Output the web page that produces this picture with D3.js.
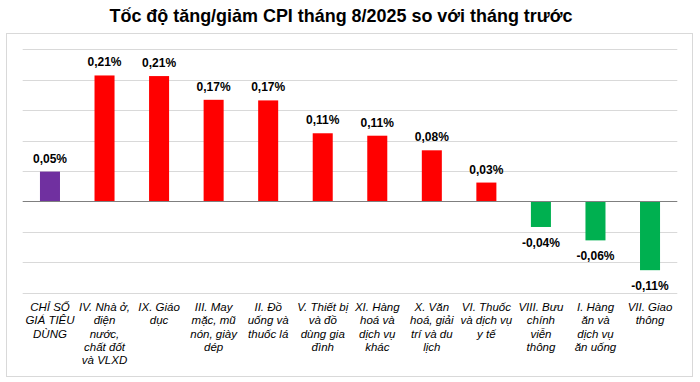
<!DOCTYPE html>
<html>
<head>
<meta charset="utf-8">
<script src="https://cdn.jsdelivr.net/npm/d3@7"></script>
<style>
  html, body { margin: 0; padding: 0; background: #fff; }
  svg { display: block; }
</style>
</head>
<body>
<svg id="chart" width="700" height="382"></svg>
<script>
const title = "Tốc độ tăng/giảm CPI tháng 8/2025 so với tháng trước";
const categories = [
  "CHỈ SỐ\nGIÁ TIÊU\nDÙNG",
  "IV. Nhà ở,\nđiện\nnước,\nchất đốt\nvà VLXD",
  "IX. Giáo\ndục",
  "III. May\nmặc, mũ\nnón, giày\ndép",
  "II. Đồ\nuống và\nthuốc lá",
  "V. Thiết bị\nvà đồ\ndùng gia\nđình",
  "XI. Hàng\nhoá và\ndịch vụ\nkhác",
  "X. Văn\nhoá, giải\ntrí và du\nlịch",
  "VI. Thuốc\nvà dịch vụ\ny tế",
  "VIII. Bưu\nchính\nviễn\nthông",
  "I. Hàng\năn và\ndịch vụ\năn uống",
  "VII. Giao\nthông"
];
const values = [0.049, 0.207, 0.206, 0.167, 0.166, 0.112, 0.108, 0.084, 0.031, -0.042, -0.064, -0.113];
const yTicks = [-0.15, -0.10, -0.05, 0, 0.05, 0.10, 0.15, 0.20, 0.25];

const COLOR_TOTAL = "#7030A0", COLOR_UP = "#FF0000", COLOR_DOWN = "#00B050";

const svg = d3.select("#chart");

// outer frame
svg.append("rect")
  .attr("x", 6.5).attr("y", 33.5).attr("width", 686).attr("height", 343)
  .attr("fill", "#fff").attr("stroke", "#d9d9d9").attr("stroke-width", 1);

// title
svg.append("text")
  .attr("x", 341).attr("y", 22)
  .attr("text-anchor", "middle")
  .attr("font-family", "Liberation Sans, Arial, sans-serif")
  .attr("font-weight", "bold")
  .attr("font-size", 18.5)
  .attr("textLength", 463)
  .attr("lengthAdjust", "spacingAndGlyphs")
  .attr("fill", "#000")
  .text(title);

const x = d3.scaleBand()
  .domain(categories)
  .range([22.7, 677.3])
  .paddingInner(0.633)
  .paddingOuter(0.3165);

const y = d3.scaleLinear()
  .domain([-0.15, 0.25])
  .range([292.7, 49.3]);

// gridlines
svg.append("g")
  .selectAll("line")
  .data(yTicks.filter(d => Math.abs(d) > 1e-9))
  .join("line")
  .attr("x1", 22.7).attr("x2", 677.3)
  .attr("y1", d => Math.round(y(d)) + 0.5)
  .attr("y2", d => Math.round(y(d)) + 0.5)
  .attr("stroke", "#d9d9d9").attr("stroke-width", 1);

// bars
svg.append("g")
  .selectAll("rect")
  .data(values)
  .join("rect")
  .attr("x", (d, i) => x(categories[i]))
  .attr("width", x.bandwidth())
  .attr("y", d => y(Math.max(0, d)))
  .attr("height", d => Math.abs(y(d) - y(0)))
  .attr("fill", (d, i) => i === 0 ? COLOR_TOTAL : (d >= 0 ? COLOR_UP : COLOR_DOWN));

// zero line
svg.append("line")
  .attr("x1", 22.7).attr("x2", 677.3)
  .attr("y1", Math.round(y(0)) + 0.5).attr("y2", Math.round(y(0)) + 0.5)
  .attr("stroke", "#7f7f7f").attr("stroke-width", 1);

// value labels
const fmt = v => (v < 0 ? "-" : "") + Math.abs(v).toFixed(2).replace(".", ",") + "%";
svg.append("g")
  .selectAll("text")
  .data(values)
  .join("text")
  .attr("x", (d, i) => x(categories[i]) + x.bandwidth() / 2)
  .attr("y", d => d >= 0 ? y(d) - 9 : y(d) + 20)
  .attr("text-anchor", "middle")
  .attr("font-family", "Liberation Sans, Arial, sans-serif")
  .attr("font-weight", "bold")
  .attr("font-size", 12)
  .attr("fill", "#000")
  .text(d => fmt(Math.round(d * 100) / 100));

// category axis
const xAxis = d3.axisBottom(x).tickSize(0).tickPadding(0).tickFormat(() => "");
const gx = svg.append("g")
  .attr("transform", "translate(0,300)")
  .call(xAxis);
gx.select(".domain").remove();
gx.selectAll(".tick").each(function(d) {
  const t = d3.select(this).select("text")
    .attr("y", 0).attr("dy", null)
    .attr("font-family", "Liberation Sans, Arial, sans-serif")
    .attr("font-style", "italic")
    .attr("font-size", 11.5)
    .attr("fill", "#000")
    .attr("text-anchor", "middle");
  d.split("\n").forEach((line, k) => {
    t.append("tspan").attr("x", 0).attr("y", 11 + k * 13.3).text(line);
  });
});
</script>
</body>
</html>
